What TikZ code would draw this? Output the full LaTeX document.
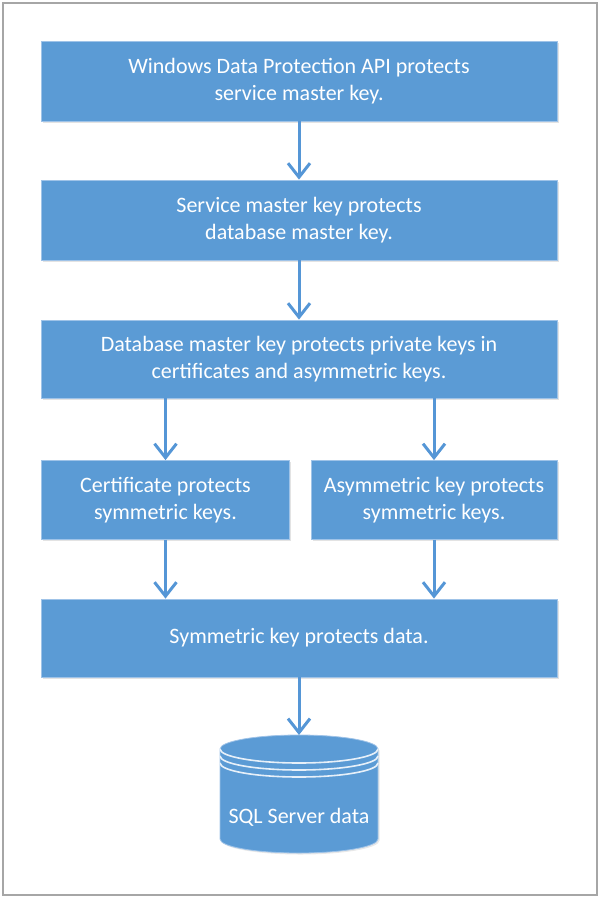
\documentclass[tikz,border=0pt]{standalone}
\usepackage{fontspec}
\setmainfont{Carlito}
\usetikzlibrary{arrows.meta,shadows}
\definecolor{boxblue}{HTML}{5B9BD5}
\definecolor{boxedge}{HTML}{9FC3E8}
\definecolor{arrowblue}{HTML}{5596D6}
\definecolor{framegray}{HTML}{A6A6A6}
\begin{document}
\begin{tikzpicture}[x=1pt,y=-1pt,
  lbl/.style={text=white, align=center, inner sep=0pt,
    font=\fontsize{22}{27}\selectfont},
  stepbox/.style={rectangle, fill=boxblue, draw=boxedge, line width=0.8pt, lbl,
    drop shadow={shadow xshift=1.5pt, shadow yshift=-1.5pt, opacity=0.18, fill=black!60}},
  flow/.style={draw=arrowblue, line width=3pt,
    -{Straight Barb[length=14pt,width=22pt,line width=3pt]}}]
\useasboundingbox (0,0) rectangle (600,898);
\draw[framegray, line width=2pt] (3,3) rectangle (597,895);

\node[stepbox, minimum width=516pt, minimum height=80pt] (b1) at (299,81)
  {Windows Data Protection API protects\\service master key.};
\node[stepbox, minimum width=516pt, minimum height=80pt] (b2) at (299,220)
  {Service master key protects\\database master key.};
\node[stepbox, minimum width=516pt, minimum height=78pt] (b3) at (299,359)
  {Database master key protects private keys in\\certificates and asymmetric keys.};
\node[stepbox, minimum width=248pt, minimum height=79pt] (b4a) at (165.5,500)
  {Certificate protects\\symmetric keys.};
\node[stepbox, minimum width=246pt, minimum height=79pt] (b4b) at (434,500)
  {Asymmetric key protects\\symmetric keys.};
\node[stepbox, minimum width=516pt, minimum height=78pt] (b5) at (299,638)
  {Symmetric key protects data.};

% cylinder
\fill[black!60, opacity=0.15, xshift=1.5pt, yshift=-1.5pt]
  (220,749) -- (220,839) arc (180:0:79 and 14) -- (378,749) arc (0:-180:79 and 14) -- cycle;
\filldraw[fill=boxblue, draw=boxedge, line width=0.8pt]
  (220,749) -- (220,839) arc (180:0:79 and 14) -- (378,749) arc (0:-180:79 and 14) -- cycle;
\draw[white!85!boxblue, line width=1.6pt] (220,749) arc (180:0:79 and 14);
\draw[white!85!boxblue, line width=1.6pt] (220,756) arc (180:0:79 and 14);
\draw[white!85!boxblue, line width=1.6pt] (220,763) arc (180:0:79 and 14);
\coordinate (dbtop) at (299,735);
\node[lbl] (db) at (299,817) {SQL Server data};

\draw[flow] (b1) -- (b2);
\draw[flow] (b2) -- (b3);
\draw[flow] (b3.south -| b4a) -- (b4a);
\draw[flow] (b3.south -| b4b) -- (b4b);
\draw[flow] (b4a) -- (b5.north -| b4a);
\draw[flow] (b4b) -- (b5.north -| b4b);
\draw[flow] (b5) -- (dbtop);
\end{tikzpicture}
\end{document}
